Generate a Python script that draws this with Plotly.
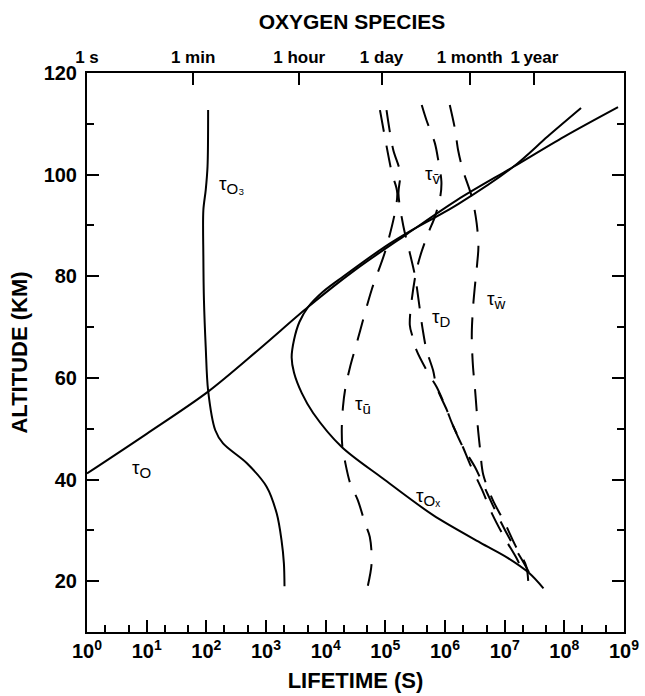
import plotly.graph_objects as go

# ---------------- data (lifetime as log10 seconds, altitude in km) ----------------
tauO_log = [0.0, 1.0, 2.03, 2.9, 3.71, 4.5, 5.36, 6.2, 7.14, 8.0, 8.9]
tauO_alt = [41.2, 49.0, 57.3, 65.8, 74.0, 81.3, 88.3, 95.0, 101.5, 107.5, 113.3]

tauOx_log = [7.65, 7.41, 7.05, 6.59, 5.80, 4.96, 4.27, 3.79, 3.60, 3.47, 3.43, 3.47, 3.56, 3.71, 3.95, 4.30, 4.99, 5.36, 6.22, 7.14, 7.72, 8.28]
tauOx_alt = [18.6, 21.6, 24.6, 27.6, 33.0, 40.2, 46.4, 53.1, 57.0, 61.0, 64.0, 67.5, 71.0, 74.0, 76.9, 80.0, 85.8, 88.5, 94.2, 101.5, 107.5, 113.1]

tauO3_log = [3.31, 3.30, 3.26, 3.18, 3.01, 2.68, 2.28, 2.15, 2.03, 1.99, 1.96, 1.95, 1.95, 1.99, 2.02, 2.03]
tauO3_alt = [19.0, 23.5, 28.1, 33.3, 38.6, 43.2, 47.1, 49.7, 57.5, 66.0, 75.3, 84.0, 93.0, 97.0, 101.6, 112.7]

tauU_log = [4.91, 5.11, 5.20, 5.02, 4.77, 4.58, 4.52, 4.41, 4.33, 4.29, 4.27, 4.28, 4.32, 4.41, 4.54, 4.66, 4.74, 4.77, 4.69]
tauU_alt = [112.7, 100.3, 96.3, 85.8, 77.3, 69.4, 66.8, 62.2, 58.0, 54.3, 50.0, 46.4, 43.8, 39.3, 35.9, 31.4, 28.7, 23.5, 18.2]

tauD_log = [5.02, 5.13, 5.25, 5.22, 5.30, 5.41, 5.50, 5.62, 5.69, 5.80, 5.86, 6.03, 6.12, 6.30, 6.50, 6.72, 6.90, 7.10, 7.30, 7.42]
tauD_alt = [112.7, 105.0, 100.3, 96.3, 90.0, 84.6, 79.9, 70.0, 65.5, 61.5, 58.2, 53.7, 51.0, 46.4, 42.5, 37.0, 32.5, 28.0, 24.0, 21.5]

tauV_log = [5.61, 5.69, 5.83, 5.88, 5.94, 5.92, 5.83, 5.72, 5.58, 5.50, 5.41, 5.46, 5.52, 5.72, 5.86, 6.03, 6.12, 6.30, 6.42, 6.62, 6.80, 7.00, 7.20, 7.30]
tauV_alt = [113.7, 110.7, 106.2, 103.3, 98.6, 95.6, 91.7, 88.5, 83.8, 79.9, 70.4, 68.0, 65.5, 60.9, 58.2, 53.7, 51.0, 46.4, 43.0, 38.0, 33.0, 28.5, 24.5, 22.0]

tauW_log = [6.08, 6.17, 6.22, 6.30, 6.45, 6.53, 6.56, 6.54, 6.50, 6.47, 6.45, 6.45, 6.47, 6.50, 6.53, 6.55, 6.59, 6.64, 6.80, 7.00, 7.18, 7.36, 7.40]
tauW_alt = [113.7, 108.8, 104.8, 100.9, 95.6, 90.5, 85.8, 82.6, 77.9, 73.9, 69.4, 66.9, 62.1, 58.2, 53.7, 50.3, 45.8, 41.0, 36.0, 31.5, 27.0, 23.0, 18.5]

# curve labels: (subscript, log10 lifetime, altitude)
label_sub = ["O", "O₃", "Oₓ", "ū", "v̄", "D", "w̄"]
label_log = [0.92, 2.42, 5.72, 4.63, 5.80, 5.94, 6.87]
label_alt = [42.0, 98.0, 36.5, 54.6, 99.9, 71.8, 75.3]

# axis ticks
bottom_tick_vals = [1e0, 1e1, 1e2, 1e3, 1e4, 1e5, 1e6, 1e7, 1e8, 1e9]
bottom_tick_text = ["10<sup>%d</sup>" % i for i in range(10)]
bottom_minor_vals = [m * 10 ** e for e in range(9) for m in (2, 5)]
top_tick_vals = [1, 60, 3600, 86400, 2.592e6, 3.156e7]
top_tick_text = ["1 s", "1 min", "1 hour", "1 day", "1 month", "1\u2009year"]
alt_tick_vals = [20, 40, 60, 80, 100, 120]

# ---------------- figure ----------------
FONT = "Liberation Sans, Arial, Helvetica, sans-serif"
fig = go.Figure()

def to_s(logs):
    return [10 ** v for v in logs]

solid = dict(color="black", width=2)
dashed = dict(color="black", width=2, dash="22px,14px")

for lg, al, ln in [
    (tauO_log, tauO_alt, solid),
    (tauOx_log, tauOx_alt, solid),
    (tauO3_log, tauO3_alt, solid),
    (tauU_log, tauU_alt, dashed),
    (tauD_log, tauD_alt, dashed),
    (tauV_log, tauV_alt, dashed),
    (tauW_log, tauW_alt, dashed),
]:
    fig.add_trace(go.Scatter(x=to_s(lg), y=al, mode="lines", line=dict(shape="spline", smoothing=0.9, **ln),
                             hoverinfo="skip", showlegend=False))

# dummy trace to activate the top (time) axis
fig.add_trace(go.Scatter(x=[1, 1e9], y=[None, None], xaxis="x2", mode="lines", showlegend=False, hoverinfo="skip"))

for sub, lg, al in zip(label_sub, label_log, label_alt):
    txt = "τ<sub><span style='font-size:15px'>%s</span></sub>" % sub
    fig.add_annotation(x=lg, y=al, xref="x", yref="y", text=txt, showarrow=False,
                       font=dict(family=FONT, size=19, color="black"))

TICKF = dict(family=FONT, size=20, color="black", weight="bold")
TITLEF = dict(family=FONT, size=22, color="black", weight="bold")

fig.update_layout(
    template="none",
    width=645, height=696,
    margin=dict(l=87, r=21, t=73, b=64),
    plot_bgcolor="white", paper_bgcolor="white",
    font=dict(family=FONT, color="black"),
    title=dict(text="OXYGEN SPECIES", x=352 / 645, xanchor="center", xref="container",
               y=1 - 22 / 696, yanchor="middle", yref="container",
               font=dict(family=FONT, size=21, color="black", weight="bold")),
    xaxis=dict(type="log", range=[0, 9], showgrid=False, zeroline=False, automargin=False,
               showline=True, linecolor="black", linewidth=2, mirror=True,
               ticks="inside", ticklen=12, tickwidth=2, tickcolor="black",
               tickvals=bottom_tick_vals, ticktext=bottom_tick_text, tickfont=TICKF,
               minor=dict(tickvals=bottom_minor_vals, ticks="inside", ticklen=7, tickwidth=2, tickcolor="black"),
               title=dict(text="LIFETIME (S)", font=TITLEF, standoff=12)),
    xaxis2=dict(type="log", range=[0, 9], overlaying="x", side="top", showgrid=False, zeroline=False,
                automargin=False, showline=False, ticks="inside", ticklen=12, tickwidth=2, tickcolor="black",
                tickvals=top_tick_vals, ticktext=top_tick_text, ticklabelstandoff=6, tickangle=0,
                tickfont=dict(family=FONT, size=17, color="black", weight="bold")),
    yaxis=dict(range=[10, 120], showgrid=False, zeroline=False, automargin=False,
               showline=True, linecolor="black", linewidth=2, mirror="ticks",
               ticks="inside", ticklen=12, tickwidth=2, tickcolor="black",
               tickvals=alt_tick_vals, tickfont=TICKF, ticklabelstandoff=4,
               minor=dict(dtick=10, tick0=0, ticks="inside", ticklen=7, tickwidth=2, tickcolor="black"),
               title=dict(text="ALTITUDE (KM)", font=TITLEF, standoff=10)),
)

fig.write_html("out.html")
